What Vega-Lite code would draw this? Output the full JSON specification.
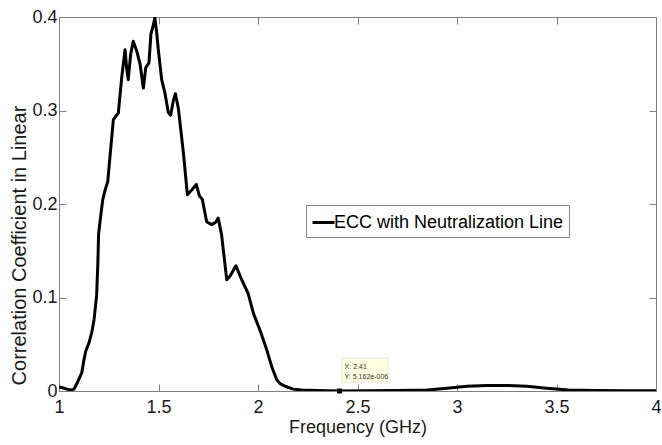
{
  "$schema": "https://vega.github.io/schema/vega-lite/v6.json",
  "width": 597,
  "height": 374,
  "autosize": {"type": "none"},
  "padding": {"left": 59, "top": 17, "right": 6, "bottom": 54},
  "background": "white",
  "config": {
    "font": "Liberation Sans",
    "view": {"stroke": "#808080", "strokeWidth": 1},
    "axis": {
      "grid": false,
      "domainColor": "#808080",
      "tickColor": "#808080",
      "labelFont": "Liberation Sans",
      "titleFont": "Liberation Sans",
      "labelFontSize": 18,
      "titleFontSize": 18,
      "labelColor": "#1a1a1a",
      "titleColor": "#1a1a1a",
      "titleFontWeight": "normal"
    }
  },
  "datasets": {
    "ecc": [
      {"f": 1.000, "ecc": 0.004},
      {"f": 1.010, "ecc": 0.004},
      {"f": 1.025, "ecc": 0.003},
      {"f": 1.040, "ecc": 0.002},
      {"f": 1.060, "ecc": 0.001},
      {"f": 1.075, "ecc": 0.002},
      {"f": 1.090, "ecc": 0.008},
      {"f": 1.105, "ecc": 0.015},
      {"f": 1.115, "ecc": 0.020},
      {"f": 1.125, "ecc": 0.033},
      {"f": 1.135, "ecc": 0.043},
      {"f": 1.150, "ecc": 0.051},
      {"f": 1.165, "ecc": 0.063},
      {"f": 1.176, "ecc": 0.076},
      {"f": 1.189, "ecc": 0.102},
      {"f": 1.195, "ecc": 0.135},
      {"f": 1.199, "ecc": 0.168},
      {"f": 1.210, "ecc": 0.188},
      {"f": 1.220, "ecc": 0.205},
      {"f": 1.232, "ecc": 0.215},
      {"f": 1.245, "ecc": 0.224},
      {"f": 1.258, "ecc": 0.255},
      {"f": 1.273, "ecc": 0.290},
      {"f": 1.285, "ecc": 0.294},
      {"f": 1.298, "ecc": 0.297},
      {"f": 1.315, "ecc": 0.335},
      {"f": 1.332, "ecc": 0.365},
      {"f": 1.340, "ecc": 0.345},
      {"f": 1.348, "ecc": 0.333},
      {"f": 1.360, "ecc": 0.360},
      {"f": 1.373, "ecc": 0.374},
      {"f": 1.390, "ecc": 0.364},
      {"f": 1.407, "ecc": 0.350},
      {"f": 1.424, "ecc": 0.324},
      {"f": 1.436, "ecc": 0.346},
      {"f": 1.452, "ecc": 0.351},
      {"f": 1.462, "ecc": 0.382},
      {"f": 1.470, "ecc": 0.388},
      {"f": 1.482, "ecc": 0.399},
      {"f": 1.490, "ecc": 0.385},
      {"f": 1.499, "ecc": 0.365},
      {"f": 1.516, "ecc": 0.333},
      {"f": 1.533, "ecc": 0.318},
      {"f": 1.549, "ecc": 0.298},
      {"f": 1.561, "ecc": 0.295},
      {"f": 1.575, "ecc": 0.311},
      {"f": 1.585, "ecc": 0.318},
      {"f": 1.600, "ecc": 0.302},
      {"f": 1.625, "ecc": 0.255},
      {"f": 1.645, "ecc": 0.210},
      {"f": 1.667, "ecc": 0.215},
      {"f": 1.690, "ecc": 0.221},
      {"f": 1.705, "ecc": 0.209},
      {"f": 1.720, "ecc": 0.205},
      {"f": 1.742, "ecc": 0.181},
      {"f": 1.767, "ecc": 0.178},
      {"f": 1.785, "ecc": 0.180},
      {"f": 1.800, "ecc": 0.185},
      {"f": 1.817, "ecc": 0.167},
      {"f": 1.843, "ecc": 0.119},
      {"f": 1.860, "ecc": 0.123},
      {"f": 1.889, "ecc": 0.134},
      {"f": 1.918, "ecc": 0.119},
      {"f": 1.951, "ecc": 0.104},
      {"f": 1.977, "ecc": 0.083},
      {"f": 2.010, "ecc": 0.065},
      {"f": 2.044, "ecc": 0.044},
      {"f": 2.069, "ecc": 0.026},
      {"f": 2.094, "ecc": 0.012},
      {"f": 2.110, "ecc": 0.008},
      {"f": 2.127, "ecc": 0.006},
      {"f": 2.150, "ecc": 0.004},
      {"f": 2.177, "ecc": 0.002},
      {"f": 2.220, "ecc": 0.001},
      {"f": 2.300, "ecc": 0.0005},
      {"f": 2.410, "ecc": 0.000005},
      {"f": 2.550, "ecc": 0.0002},
      {"f": 2.700, "ecc": 0.0005},
      {"f": 2.850, "ecc": 0.001},
      {"f": 2.950, "ecc": 0.003},
      {"f": 3.050, "ecc": 0.005},
      {"f": 3.150, "ecc": 0.006},
      {"f": 3.250, "ecc": 0.006},
      {"f": 3.350, "ecc": 0.005},
      {"f": 3.450, "ecc": 0.003},
      {"f": 3.560, "ecc": 0.001},
      {"f": 3.700, "ecc": 0.0005},
      {"f": 3.850, "ecc": 0.0003},
      {"f": 4.000, "ecc": 0.0002}
    ],
    "tip": [
      {"f": 2.41, "ecc": 0.000005162, "lx": "X: 2.41", "ly": "Y: 5.162e-006"}
    ]
  },
  "layer": [
    {
      "data": {"name": "ecc"},
      "mark": {"type": "line", "strokeWidth": 3, "strokeJoin": "round", "clip": true},
      "encoding": {
        "x": {
          "field": "f", "type": "quantitative",
          "scale": {"domain": [1, 4], "nice": false, "zero": false},
          "axis": {
            "orient": "bottom",
            "values": [1, 1.5, 2, 2.5, 3, 3.5, 4],
            "labelExpr": "'' + datum.value",
            "tickSize": -7,
            "labelPadding": 14,
            "labelFlush": false,
            "title": "Frequency (GHz)",
            "titlePadding": 2
          }
        },
        "y": {
          "field": "ecc", "type": "quantitative",
          "scale": {"domain": [0, 0.4], "nice": false},
          "axis": {
            "orient": "left",
            "values": [0, 0.1, 0.2, 0.3, 0.4],
            "labelExpr": "datum.value == 0 ? '0' : format(datum.value, '.1f')",
            "tickSize": -7,
            "labelPadding": 9,
            "labelFlush": false,
            "title": "Correlation Coefficient in Linear",
            "titleFontSize": 20,
            "titleX": -40,
            "titleY": 228,
            "titleAlign": "center",
            "titleBaseline": "middle",
            "titleAngle": 270
          }
        },
        "color": {
          "datum": "ECC with Neutralization Line",
          "type": "nominal",
          "scale": {"range": ["#000000"]},
          "legend": {
            "title": null,
            "orient": "none",
            "legendX": 247,
            "legendY": 188,
            "padding": 5,
            "columnPadding": 0,
            "strokeColor": "#888888",
            "fillColor": "#ffffff",
            "symbolType": "stroke",
            "symbolSize": 484,
            "symbolStrokeWidth": 3,
            "labelFont": "Liberation Sans",
            "labelFontSize": 18,
            "labelColor": "#000000",
            "labelOffset": -2,
            "labelLimit": 400
          }
        }
      }
    },
    {
      "data": {"name": "tip"},
      "mark": {
        "type": "point",
        "shape": "M0.104,-1.435H2.104V-0.391H0.104Z",
        "size": 2116,
        "filled": true,
        "fill": "#ffffe1",
        "stroke": "#d0d0b8",
        "strokeWidth": 0.5,
        "opacity": 1
      },
      "encoding": {
        "x": {
          "field": "f", "type": "quantitative",
          "axis": {"orient": "top", "labels": false, "domain": false, "tickSize": -7, "values": [1, 1.5, 2, 2.5, 3, 3.5, 4], "title": null}
        },
        "y": {
          "field": "ecc", "type": "quantitative",
          "axis": {"orient": "right", "labels": false, "domain": false, "tickSize": -7, "values": [0, 0.1, 0.2, 0.3, 0.4], "title": null}
        }
      }
    },
    {
      "data": {"name": "tip"},
      "mark": {"type": "point", "shape": "square", "size": 25, "filled": true, "fill": "#000000", "opacity": 1},
      "encoding": {
        "x": {"field": "f", "type": "quantitative", "axis": null},
        "y": {"field": "ecc", "type": "quantitative", "axis": null}
      }
    },
    {
      "data": {"name": "tip"},
      "mark": {"type": "text", "align": "left", "baseline": "middle", "dx": 5, "dy": -24, "fontSize": 7, "font": "Liberation Sans", "color": "#333333"},
      "encoding": {
        "x": {"field": "f", "type": "quantitative", "axis": null},
        "y": {"field": "ecc", "type": "quantitative", "axis": null},
        "text": {"field": "lx"}
      }
    },
    {
      "data": {"name": "tip"},
      "mark": {"type": "text", "align": "left", "baseline": "middle", "dx": 5, "dy": -14, "fontSize": 7, "font": "Liberation Sans", "color": "#333333"},
      "encoding": {
        "x": {"field": "f", "type": "quantitative", "axis": null},
        "y": {"field": "ecc", "type": "quantitative", "axis": null},
        "text": {"field": "ly"}
      }
    }
  ],
  "resolve": {"axis": {"x": "independent", "y": "independent"}}
}
